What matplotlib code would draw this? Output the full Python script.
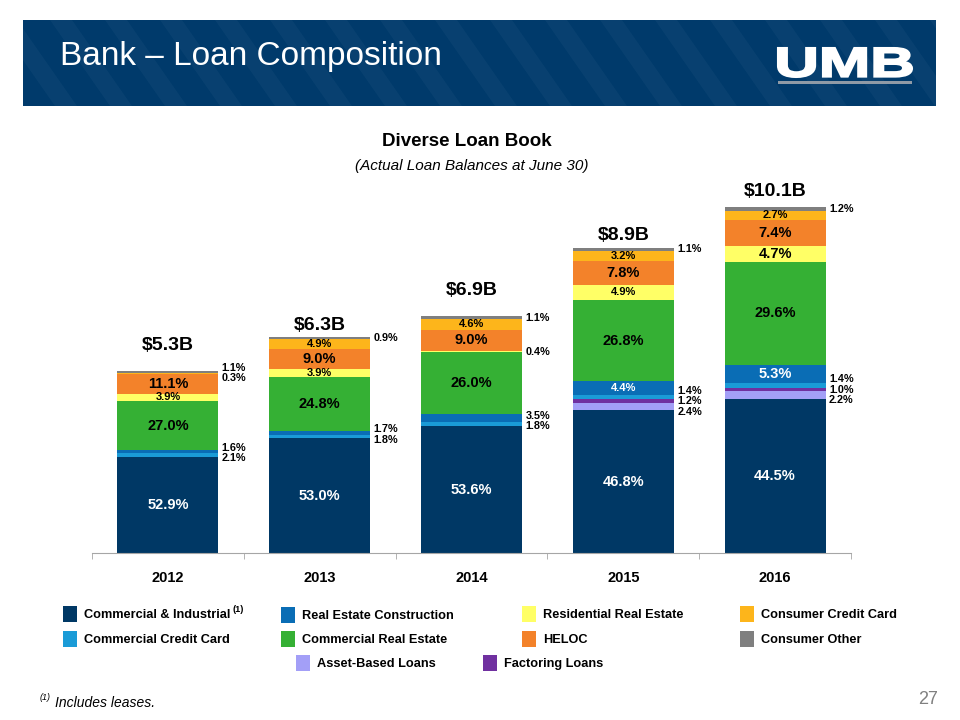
import numpy as np
import matplotlib
matplotlib.use("Agg")
import matplotlib.pyplot as plt
from matplotlib.patches import Rectangle, Polygon, PathPatch
from matplotlib.textpath import TextPath
from matplotlib.font_manager import FontProperties
from matplotlib.transforms import Affine2D

plt.rcParams['font.family'] = ['Liberation Sans', 'DejaVu Sans']

# ---- data (loan mix at June 30, % of total, stacked bottom to top) ----
years = ['2012', '2013', '2014', '2015', '2016']
totals = [5.3, 6.3, 6.9, 8.9, 10.1]  # $B
total_labels = [r'\$5.3B', r'\$6.3B', r'\$6.9B', r'\$8.9B', r'\$10.1B']

comm_industrial = [52.9, 53.0, 53.6, 46.8, 44.5]
asset_based = [0.0, 0.0, 0.0, 2.4, 2.2]
factoring = [0.0, 0.0, 0.0, 1.2, 1.0]
comm_credit_card = [2.1, 1.8, 1.8, 1.4, 1.4]
re_construction = [1.6, 1.7, 3.5, 4.4, 5.3]
comm_real_estate = [27.0, 24.8, 26.0, 26.8, 29.6]
resid_real_estate = [3.9, 3.9, 0.4, 4.9, 4.7]
heloc = [11.1, 9.0, 9.0, 7.8, 7.4]
cons_credit_card = [0.3, 4.9, 4.6, 3.2, 2.7]
cons_other = [1.1, 0.9, 1.1, 1.1, 1.2]

series = [
    ('Commercial & Industrial', comm_industrial, '#003865'),
    ('Asset-Based Loans', asset_based, '#a39ff7'),
    ('Factoring Loans', factoring, '#7030a0'),
    ('Commercial Credit Card', comm_credit_card, '#1a9bd7'),
    ('Real Estate Construction', re_construction, '#0a6db5'),
    ('Commercial Real Estate', comm_real_estate, '#35b034'),
    ('Residential Real Estate', resid_real_estate, '#ffff66'),
    ('HELOC', heloc, '#f3822a'),
    ('Consumer Credit Card', cons_credit_card, '#fdb51b'),
    ('Consumer Other', cons_other, '#7f7f7f'),
]
white_text = {'Commercial & Industrial', 'Real Estate Construction'}

fig = plt.figure(figsize=(9.6, 7.2), dpi=100)

# overlay in pixel coordinates for the slide decoration
ov = fig.add_axes([0, 0, 1, 1])
ov.set_xlim(0, 960)
ov.set_ylim(720, 0)
ov.axis('off')

band = Rectangle((23, 20), 913, 86, fc='#003a6b', ec='none')
ov.add_patch(band)
for x0 in range(-60, 1000, 55):
    stripe = Polygon([(x0, 20), (x0 + 22, 20), (x0 + 22 + 60, 106), (x0 + 60, 106)],
                     closed=True, fc='white', alpha=0.035, ec='none')
    ov.add_patch(stripe)
    stripe.set_clip_path(band)
ov.text(60, 56, 'Bank – Loan Composition', color='white', fontsize=24,
        va='center', ha='left')

# UMB logo
fp = FontProperties(family='Liberation Sans', weight='bold')
tp = TextPath((0, 0), 'UMB', size=1, prop=fp)
ext = tp.get_extents()
tr = Affine2D().translate(-ext.x0, -ext.y0).scale(134 / ext.width, -29 / ext.height).translate(778, 77)
ov.add_patch(PathPatch(tr.transform_path(tp), fc='white', ec='white', lw=1.5))
ov.add_patch(Rectangle((778, 81), 134, 3, fc='#8f9aa6', ec='none'))

ov.text(467, 142, 'Diverse Loan Book', fontsize=13.5, fontweight='bold', ha='center', va='center')
ov.text(472, 166, '(Actual Loan Balances at June 30)', fontsize=11, fontstyle='italic',
        ha='center', va='center')

# ---- main chart ----
px_per_b = 34.3
ax = fig.add_axes([92 / 960, (720 - 553) / 720, (851 - 92) / 960, (553 - 190) / 720])
ax.set_xlim(-0.5, len(years) - 0.5)
ax.set_ylim(0, 363 / px_per_b)
ax.patch.set_alpha(0)
for s in ['top', 'right', 'left']:
    ax.spines[s].set_visible(False)
ax.spines['bottom'].set_color('#a6a6a6')
ax.set_yticks([])
x = np.arange(len(years))
ax.set_xticks(x)
ax.set_xticklabels(years, fontsize=10.5, fontweight='bold')
ax.tick_params(axis='x', which='major', length=0, pad=13)
ax.set_xticks(np.arange(len(years) + 1) - 0.5, minor=True)
ax.tick_params(axis='x', which='minor', length=4, color='#a6a6a6')

width = 0.665
bottoms = np.zeros(len(years))
outside = [[] for _ in years]
for name, pct, color in series:
    vals = np.array(pct) / 100 * np.array(totals)
    ax.bar(x, vals, width, bottom=bottoms, color=color, edgecolor='none', zorder=2)
    for i, p in enumerate(pct):
        if p <= 0:
            continue
        yc = bottoms[i] + vals[i] / 2
        inside = p >= 2.5 and not (name == 'Real Estate Construction' and p < 4)
        if inside:
            fs = 10.5 if vals[i] >= 0.45 else 8
            ax.text(x[i], yc, f'{p:.1f}%', ha='center', va='center', fontsize=fs,
                    fontweight='bold', color='white' if name in white_text else 'black', zorder=3)
        else:
            outside[i].append([yc, f'{p:.1f}%'])
    bottoms += vals

# spread the small outside labels so they do not collide
gap = 10.5 / px_per_b
for i, labs in enumerate(outside):
    labs.sort(key=lambda t: t[0])
    pos = [l[0] for l in labs]
    for _ in range(50):
        moved = False
        clusters = [[0]]
        for k in range(1, len(pos)):
            if pos[k] - pos[clusters[-1][-1]] < gap - 1e-9:
                clusters[-1].append(k)
            else:
                clusters.append([k])
        for c in clusters:
            if len(c) > 1:
                m = np.mean([labs[k][0] for k in c])
                for j, k in enumerate(c):
                    newp = m + (j - (len(c) - 1) / 2) * gap
                    if abs(newp - pos[k]) > 1e-9:
                        moved = True
                    pos[k] = newp
        if not moved:
            break
    for (yc, txt), yp in zip(labs, pos):
        ax.annotate(txt, (x[i] + width / 2, yp), xytext=(2.5, 0), textcoords='offset points',
                    ha='left', va='center', fontsize=7.8, fontweight='bold')

total_pad = [26, 11, 26, 12, 15]
for i, t in enumerate(totals):
    ax.annotate(total_labels[i], (x[i], t), xytext=(0, total_pad[i] * 0.72), textcoords='offset points',
                ha='center', va='center', fontsize=14, fontweight='bold', annotation_clip=False)

# ---- legend ----
legend_pos = {
    'Commercial & Industrial': (63, 614),
    'Commercial Credit Card': (63, 639),
    'Real Estate Construction': (281, 615),
    'Commercial Real Estate': (281, 639),
    'Asset-Based Loans': (296, 663),
    'Residential Real Estate': (522, 614),
    'HELOC': (522, 639),
    'Factoring Loans': (483, 663),
    'Consumer Credit Card': (740, 614),
    'Consumer Other': (740, 639),
}
renderer = fig.canvas.get_renderer()
for name, pct, color in series:
    lx, ly = legend_pos[name]
    ov.add_patch(Rectangle((lx, ly - 8), 14, 16, fc=color, ec='none'))
    t = ov.text(lx + 21, ly + 1, name, fontsize=9.2, fontweight='bold', ha='left', va='center')
    if name == 'Commercial & Industrial':
        bb = t.get_window_extent(renderer)
        ov.text(bb.x1 + 2, ly - 5, '(1)', fontsize=6.5, fontweight='bold', ha='left', va='center')

ov.text(40, 697, '(1)', fontsize=6.5, fontstyle='italic', ha='left', va='center')
ov.text(55, 703, 'Includes leases.', fontsize=10, fontstyle='italic', ha='left', va='center')
ov.text(938, 700, '27', fontsize=13, color='#808080', ha='right', va='center')

fig.savefig('out.png', dpi=100)
